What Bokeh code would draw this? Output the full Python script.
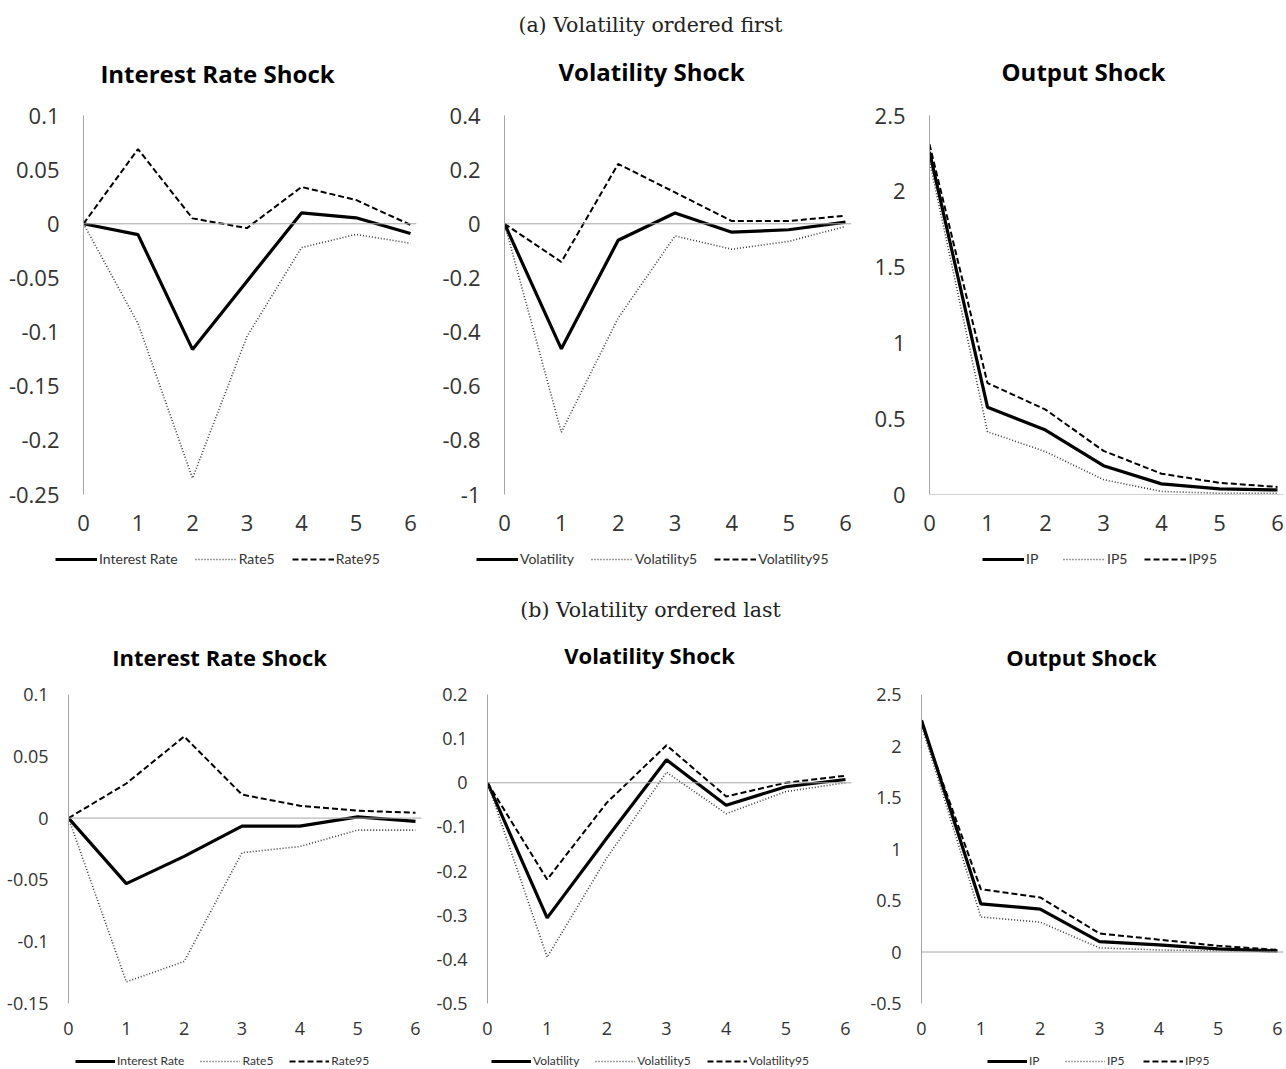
from bokeh.plotting import figure
from bokeh.models import Range1d, Span, Legend, LegendItem, Label, FixedTicker
from bokeh.layouts import column, row
from bokeh.embed import file_html
from bokeh.resources import INLINE

periods = [0, 1, 2, 3, 4, 5, 6]

# (a) Volatility ordered first
a_rate = [0, -0.010, -0.116, -0.053, 0.010, 0.0055, -0.009]
a_rate5 = [0, -0.092, -0.235, -0.104, -0.022, -0.0098, -0.018]
a_rate95 = [0, 0.069, 0.005, -0.004, 0.034, 0.022, -0.001]
a_vol = [0, -0.462, -0.061, 0.040, -0.031, -0.022, 0.006]
a_vol5 = [0, -0.770, -0.348, -0.045, -0.094, -0.065, -0.010]
a_vol95 = [0, -0.141, 0.221, 0.116, 0.010, 0.010, 0.030]
a_ip = [2.26, 0.576, 0.425, 0.190, 0.070, 0.037, 0.030]
a_ip5 = [2.20, 0.414, 0.283, 0.098, 0.020, 0.008, 0.008]
a_ip95 = [2.31, 0.735, 0.560, 0.288, 0.137, 0.077, 0.050]

# (b) Volatility ordered last
b_rate = [0, -0.053, -0.031, -0.0065, -0.0065, 0.001, -0.0027]
b_rate5 = [0, -0.1325, -0.116, -0.028, -0.023, -0.0097, -0.0097]
b_rate95 = [0, 0.028, 0.066, 0.019, 0.010, 0.006, 0.0043]
b_vol = [0, -0.306, -0.125, 0.052, -0.051, -0.009, 0.0075]
b_vol5 = [0, -0.395, -0.170, 0.024, -0.070, -0.020, 0.000]
b_vol95 = [0, -0.219, -0.045, 0.085, -0.031, 0.000, 0.016]
b_ip = [2.25, 0.468, 0.417, 0.100, 0.070, 0.030, 0.010]
b_ip5 = [2.20, 0.340, 0.290, 0.040, 0.020, 0.010, 0.005]
b_ip95 = [2.22, 0.610, 0.530, 0.180, 0.120, 0.060, 0.020]

rate_names = ["Interest Rate", "Rate5", "Rate95"]
vol_names = ["Volatility", "Volatility5", "Volatility95"]
ip_names = ["IP", "IP5", "IP95"]

a_rate_ticks = [-0.25, -0.2, -0.15, -0.1, -0.05, 0, 0.05, 0.1]
a_vol_ticks = [-1, -0.8, -0.6, -0.4, -0.2, 0, 0.2, 0.4]
a_ip_ticks = [0, 0.5, 1, 1.5, 2, 2.5]
b_rate_ticks = [-0.15, -0.1, -0.05, 0, 0.05, 0.1]
b_vol_ticks = [-0.5, -0.4, -0.3, -0.2, -0.1, 0, 0.1, 0.2]
b_ip_ticks = [-0.5, 0, 0.5, 1, 1.5, 2, 2.5]

captions = ["(a) Volatility ordered first", "(b) Volatility ordered last"]
titles = ["Interest Rate Shock", "Volatility Shock", "Output Shock"]

STYLES = [
    dict(line_color="black", line_width=3.2),
    dict(line_color="#3a3a3a", line_width=1.6, line_dash="1 2"),
    dict(line_color="black", line_width=2, line_dash="6 3"),
]

W = 1286


def fmt(t):
    return f"{t:g}"


def make_panel(series, ticks, geom, big):
    pl, pr, pt, pb, x0, x6, ytop, ybot = geom
    ymin, ymax = ticks[0], ticks[-1]
    pad = 6
    x_end = 6 + pad * 6.0 / (x6 - x0)
    p = figure(width=pr - pl, height=pb - pt,
               min_border_left=x0 - pl, min_border_right=pr - (x6 + pad),
               min_border_top=ytop - pt, min_border_bottom=pb - ybot,
               x_range=Range1d(0, x_end), y_range=Range1d(ymin, ymax),
               output_backend="svg", toolbar_location=None,
               background_fill_color="white", border_fill_color="white")
    p.outline_line_color = None
    p.grid.visible = False
    fs = "22px" if big else "18px"
    p.yaxis.ticker = FixedTicker(ticks=ticks)
    p.yaxis.major_label_overrides = {t: fmt(t) for t in ticks}
    p.yaxis.axis_line_color = "#a6a6a6"
    p.yaxis.major_tick_line_color = None
    p.yaxis.minor_tick_line_color = None
    p.yaxis.major_label_standoff = 18 if big else 14
    p.yaxis.major_label_text_font = "Open Sans"
    p.yaxis.major_label_text_font_size = fs
    p.yaxis.major_label_text_color = "#333333"
    p.xaxis.ticker = FixedTicker(ticks=periods)
    p.xaxis.axis_line_color = None
    p.xaxis.major_tick_line_color = None
    p.xaxis.minor_tick_line_color = None
    p.xaxis.major_label_standoff = 14 if big else 12
    p.xaxis.major_label_text_font = "Open Sans"
    p.xaxis.major_label_text_font_size = fs
    p.xaxis.major_label_text_color = "#333333"
    p.add_layout(Span(location=0, dimension="width", line_color="#a6a6a6", line_width=1))
    for ys, st in zip(series, STYLES):
        p.line(periods, ys, **st)
    return p


def header(caption_text, top, bottom, title_specs, tsize):
    h = bottom - top
    c = figure(width=W, height=h, x_range=Range1d(0, W), y_range=Range1d(h, 0),
               min_border=0, x_axis_type=None, y_axis_type=None,
               output_backend="svg", toolbar_location=None)
    c.outline_line_color = None
    c.grid.visible = False
    c.add_layout(Label(x=650, y=24, text=caption_text, text_align="center",
                       text_baseline="middle", text_font="DejaVu Serif",
                       text_font_size="20.5px", text_color="#222222"))
    for text, (cx, cy) in zip(titles, title_specs):
        c.add_layout(Label(x=cx, y=cy - top, text=text, text_align="center",
                           text_baseline="middle", text_font="Open Sans",
                           text_font_style="bold", text_font_size=tsize,
                           text_color="black"))
    return c


def legend_strip(top, bottom, groups, big):
    h = bottom - top
    s = figure(width=W, height=h, x_range=Range1d(0, W), y_range=Range1d(1000, 1001),
               min_border=0, x_axis_type=None, y_axis_type=None,
               output_backend="svg", toolbar_location=None)
    s.outline_line_color = None
    s.grid.visible = False
    for series, names, (lx, lcy) in groups:
        items = []
        for ys, name, st in zip(series, names, STYLES):
            r = s.line(periods, ys, **st)
            items.append(LegendItem(label=name, renderers=[r]))
        lh = 16 if big else 14
        leg = Legend(items=items, orientation="horizontal",
                     location=(lx, bottom - lcy - lh / 2.0),
                     glyph_width=42 if big else 40, glyph_height=lh, label_standoff=2,
                     spacing=17 if big else 16, label_height=lh,
                     label_text_font="Lato",
                     label_text_font_size="14px" if big else "12px",
                     label_text_baseline="middle",
                     label_text_color="#333333", border_line_color=None,
                     background_fill_alpha=0, padding=0, margin=0)
        s.add_layout(leg, "center")
    return s


# geometry (panel_left, panel_right, panel_top, panel_bottom, x0px, x6px, ytop_px, ybot_px)
A_TOP, A_BOT = 100, 543
B_TOP, B_BOT = 678, 1046
ga1 = (0, 430, A_TOP, A_BOT, 83, 410, 115, 494)
ga2 = (430, 860, A_TOP, A_BOT, 504, 845, 115, 494)
ga3 = (860, 1286, A_TOP, A_BOT, 929, 1277, 113, 495)
gb1 = (0, 430, B_TOP, B_BOT, 68, 415, 693, 1007)
gb2 = (430, 860, B_TOP, B_BOT, 487, 845, 690, 1003)
gb3 = (860, 1286, B_TOP, B_BOT, 921, 1277, 694, 1006)

pa1 = make_panel([a_rate, a_rate5, a_rate95], a_rate_ticks, ga1, True)
pa2 = make_panel([a_vol, a_vol5, a_vol95], a_vol_ticks, ga2, True)
pa3 = make_panel([a_ip, a_ip5, a_ip95], a_ip_ticks, ga3, True)
pb1 = make_panel([b_rate, b_rate5, b_rate95], b_rate_ticks, gb1, False)
pb2 = make_panel([b_vol, b_vol5, b_vol95], b_vol_ticks, gb2, False)
pb3 = make_panel([b_ip, b_ip5, b_ip95], b_ip_ticks, gb3, False)

head_a = header(captions[0], 0, A_TOP, [(217, 73), (651, 71), (1083, 71)], "24px")
head_b = header(captions[1], 585, B_TOP, [(219, 656), (649, 654), (1081, 656)], "22px")

leg_a = legend_strip(A_BOT, 585,
                     [([a_rate, a_rate5, a_rate95], rate_names, (55, 559)),
                      ([a_vol, a_vol5, a_vol95], vol_names, (476, 559)),
                      ([a_ip, a_ip5, a_ip95], ip_names, (982, 559))], True)
leg_b = legend_strip(B_BOT, 1069,
                     [([b_rate, b_rate5, b_rate95], rate_names, (75, 1061)),
                      ([b_vol, b_vol5, b_vol95], vol_names, (491, 1061)),
                      ([b_ip, b_ip5, b_ip95], ip_names, (987, 1061))], False)

layout = column(head_a, row(pa1, pa2, pa3), leg_a,
                head_b, row(pb1, pb2, pb3), leg_b)

open("out.html", "w").write(file_html(layout, INLINE))
